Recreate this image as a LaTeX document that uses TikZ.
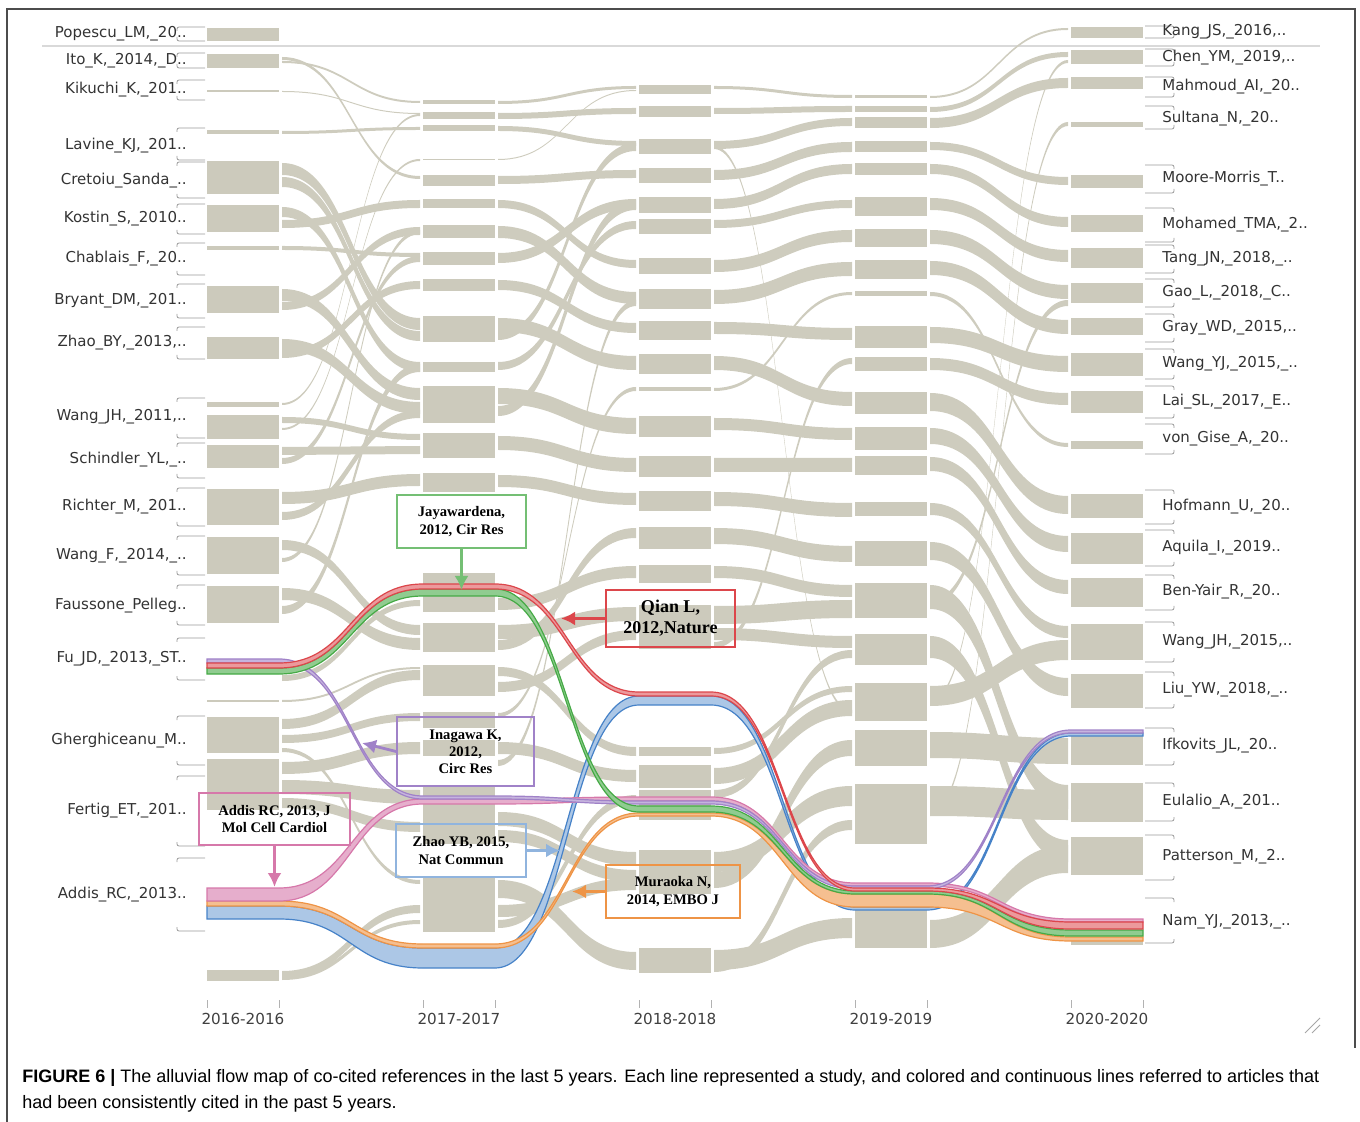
\documentclass[tikz,border=0pt]{standalone}
\usepackage{fontspec}
\setmainfont{Liberation Serif}
\newfontfamily\lblfont{DejaVu Sans}
\newfontfamily\capfont{Liberation Sans}
\usetikzlibrary{arrows.meta}
\definecolor{aluflow}{RGB}{206,204,190}
\definecolor{alublock}{RGB}{204,202,188}
\definecolor{qred}{RGB}{220,70,75}
\definecolor{jgreen}{RGB}{70,170,70}
\definecolor{ipurple}{RGB}{160,130,200}
\definecolor{apink}{RGB}{214,120,170}
\definecolor{morange}{RGB}{238,148,70}
\definecolor{zblue}{RGB}{70,130,200}

% grey band between two columns: x1, x2, source top, width, target top
\newcommand{\flowband}[5]{%
  \fill[aluflow] (#1,#3) .. controls ({(#1+#2)/2},#3) and ({(#1+#2)/2},#5) .. (#2,#5)
    -- (#2,#5+#4) .. controls ({(#1+#2)/2},#5+#4) and ({(#1+#2)/2},#3+#4) .. (#1,#3+#4) -- cycle;}

\begin{document}
\begin{tikzpicture}[x=0.5pt,y=-0.5pt,
  block/.style={fill=alublock},
  brk/.style={draw=black!40,line width=0.4pt},
  llbl/.style={font=\lblfont\fontsize{7.5}{9}\selectfont,text=black!80,inner sep=0pt},
  yr/.style={font=\lblfont\fontsize{7.6}{9}\selectfont,text=black!75,inner sep=0pt},
  callout/.style={line width=0.8pt,align=center,inner sep=1pt,
    font=\bfseries\fontsize{7.3}{8.6}\selectfont},
  pointer/.style={line width=1.4pt,-{Latex[length=7pt,width=7pt]}}]
\useasboundingbox (0,0) rectangle (1360,1122);

% frame
\draw[black!70,line width=0.6pt] (7,1122) -- (7,9) -- (1355,9) -- (1355,1048);
\draw[black!15,line width=1pt] (42,46) -- (1320,46);
\draw[black!35,line width=0.5pt] (1305,1033) -- (1320,1018) (1312,1033) -- (1320,1025);

% grey flows 2016 -> 2017
\foreach \a/\w/\b in {57/3/176,61/2/101,91/1/113,131/3/127,163/12/318,177/10/331,
  207/10/362,220/8/200,246/4/253,289/12/388,302/8/227,339/12/402,350/8/281,
  403/2/114,417/6/434,428/2/159,447/8/446,458/6/256,492/12/474,512/8/410,
  540/10/625,558/4/230,588/12/638,606/8/364,675/6/600,700/2/667,719/10/670,
  735/8/713,748/4/880,762/12/742,780/14/790,798/10/822,971/8/905,976/4/920}
  {\flowband{282}{420}{\a}{\w}{\b}}
% grey flows 2017 -> 2018
\foreach \a/\w/\b in {101/3/86,113/6/108,126/5/141,159/1/90,176/8/170,200/8/260,
  226/12/292,253/10/199,280/10/323,318/14/356,332/8/143,362/8/221,388/16/418,
  406/10/200,436/14/458,475/12/493,598/12/566,625/14/607,640/10/528,667/9/747,
  682/10/630,713/4/387,742/12/770,760/6/300,812/14/852,830/12/870,880/18/952,
  905/12/878,920/8/795}
  {\flowband{498}{636}{\a}{\w}{\b}}
% grey flows 2018 -> 2019
\foreach \a/\w/\b in {86/3/95,108/6/106,141/8/118,146/3/710,170/10/142,199/10/164,
  220/8/200,260/12/230,290/14/262,322/12/328,356/14/392,388/3/292,418/12/428,
  458/14/458,492/14/503,528/16/546,566/12/585,606/18/600,628/12/636,642/6/358,
  748/6/686,768/16/700,790/8/650,852/20/786,872/16/740,950/20/918,962/10/820}
  {\flowband{714}{852}{\a}{\w}{\b}}
% grey flows 2019 -> 2020
\foreach \a/\w/\b in {96/2/28,107/5/52,118/10/78,142/8/177,164/10/217,198/12/250,
  230/14/285,261/14/320,292/4/443,327/16/356,358/12/393,393/18/496,428/16/536,
  457/14/580,503/12/626,542/18/678,585/24/785,600/6/300,636/22/840,686/20/640,
  700/3/60,732/26/738,786/30/790,812/4/122,920/28/845}
  {\flowband{930}{1068}{\a}{\w}{\b}}

% blocks
\foreach \t/\b in {28/41,54/68,90/92,130/134,161/194,205/232,246/250,286/313,
  337/359,402/407,415/439,445/468,489/525,537/574,586/623,700/702,717/753,
  759/810,970/981}
  {\fill[block] (207,\t) rectangle (279,\b);}
\foreach \t/\b in {100/104,112/119,125/131,159/160,175/186,199/208,225/238,
  252/265,279/291,316/342,362/372,386/423,433/458,473/492,573/612,623/652,
  665/696,712/728,740/756,787/844,878/932}
  {\fill[block] (423,\t) rectangle (495,\b);}
\foreach \t/\b in {85/94,106/117,139/154,168/183,197/213,219/234,258/274,
  289/309,321/340,354/374,387/391,416/437,456/477,491/511,527/549,565/583,
  605/649,747/756,765/788,790/820,850/894,948/973}
  {\fill[block] (639,\t) rectangle (711,\b);}
\foreach \t/\b in {95/98,106/112,117/128,141/152,163/175,197/216,229/247,
  260/279,291/296,326/348,357/371,392/414,427/450,456/475,502/516,541/566,
  583/618,634/665,683/721,730/766,784/844,908/948}
  {\fill[block] (855,\t) rectangle (927,\b);}
\foreach \t/\b in {27/38,50/64,77/89,122/127,175/188,215/232,248/268,283/303,
  318/335,353/376,391/413,441/449,494/518,533/564,578/607,624/660,674/708,
  736/765,783/822,837/875,941/945}
  {\fill[block] (1071,\t) rectangle (1143,\b);}

% consistently cited references
\filldraw[fill=zblue!45,draw=zblue,line width=0.6pt]
  (207,906) -- (279,906) .. controls (351,906) and (351,948) .. (423,948) -- (495,948)
  .. controls (567,948) and (567,696) .. (639,696) -- (711,696)
  .. controls (783,696) and (783,907) .. (855,907) -- (927,907)
  .. controls (999,907) and (999,733) .. (1071,733) -- (1143,733) -- (1143,736) -- (1071,736)
  .. controls (999,736) and (999,910) .. (927,910) -- (855,910)
  .. controls (783,910) and (783,705) .. (711,705) -- (639,705)
  .. controls (567,705) and (567,968) .. (495,968) -- (423,968)
  .. controls (351,968) and (351,919) .. (279,919) -- (207,919) -- cycle;
\filldraw[fill=morange!60,draw=morange,line width=0.6pt]
  (207,901) -- (279,901) .. controls (351,901) and (351,944) .. (423,944) -- (495,944)
  .. controls (567,944) and (567,813) .. (639,813) -- (711,813)
  .. controls (783,813) and (783,894) .. (855,894) -- (927,894)
  .. controls (999,894) and (999,937) .. (1071,937) -- (1143,937) -- (1143,941) -- (1071,941)
  .. controls (999,941) and (999,907) .. (927,907) -- (855,907)
  .. controls (783,907) and (783,816) .. (711,816) -- (639,816)
  .. controls (567,816) and (567,948) .. (495,948) -- (423,948)
  .. controls (351,948) and (351,906) .. (279,906) -- (207,906) -- cycle;
\filldraw[fill=apink!60,draw=apink,line width=0.6pt]
  (207,888) -- (279,888) .. controls (351,888) and (351,799) .. (423,799) -- (495,799)
  .. controls (567,799) and (567,797) .. (639,797) -- (711,797)
  .. controls (783,797) and (783,883) .. (855,883) -- (927,883)
  .. controls (999,883) and (999,919) .. (1071,919) -- (1143,919) -- (1143,922) -- (1071,922)
  .. controls (999,922) and (999,886) .. (927,886) -- (855,886)
  .. controls (783,886) and (783,801) .. (711,801) -- (639,801)
  .. controls (567,801) and (567,804) .. (495,804) -- (423,804)
  .. controls (351,804) and (351,901) .. (279,901) -- (207,901) -- cycle;
\filldraw[fill=ipurple!60,draw=ipurple,line width=0.6pt]
  (207,659) -- (279,659) .. controls (351,659) and (351,796) .. (423,796) -- (495,796)
  .. controls (567,796) and (567,801) .. (639,801) -- (711,801)
  .. controls (783,801) and (783,886) .. (855,886) -- (927,886)
  .. controls (999,886) and (999,730) .. (1071,730) -- (1143,730) -- (1143,733) -- (1071,733)
  .. controls (999,733) and (999,889) .. (927,889) -- (855,889)
  .. controls (783,889) and (783,804) .. (711,804) -- (639,804)
  .. controls (567,804) and (567,799) .. (495,799) -- (423,799)
  .. controls (351,799) and (351,663) .. (279,663) -- (207,663) -- cycle;
\filldraw[fill=jgreen!60,draw=jgreen,line width=0.6pt]
  (207,668) -- (279,668) .. controls (351,668) and (351,589) .. (423,589) -- (495,589)
  .. controls (567,589) and (567,806) .. (639,806) -- (711,806)
  .. controls (783,806) and (783,891) .. (855,891) -- (927,891)
  .. controls (999,891) and (999,930) .. (1071,930) -- (1143,930) -- (1143,936) -- (1071,936)
  .. controls (999,936) and (999,894) .. (927,894) -- (855,894)
  .. controls (783,894) and (783,812) .. (711,812) -- (639,812)
  .. controls (567,812) and (567,596) .. (495,596) -- (423,596)
  .. controls (351,596) and (351,674) .. (279,674) -- (207,674) -- cycle;
\filldraw[fill=qred!55,draw=qred,line width=0.6pt]
  (207,663) -- (279,663) .. controls (351,663) and (351,584) .. (423,584) -- (495,584)
  .. controls (567,584) and (567,692) .. (639,692) -- (711,692)
  .. controls (783,692) and (783,888) .. (855,888) -- (927,888)
  .. controls (999,888) and (999,922) .. (1071,922) -- (1143,922) -- (1143,929) -- (1071,929)
  .. controls (999,929) and (999,891) .. (927,891) -- (855,891)
  .. controls (783,891) and (783,696) .. (711,696) -- (639,696)
  .. controls (567,696) and (567,589) .. (495,589) -- (423,589)
  .. controls (351,589) and (351,668) .. (279,668) -- (207,668) -- cycle;

% brackets beside the labels
\foreach \a/\b in {27/41,53/68,80/100,128/160,162/198,204/234,243/275,284/318,
  327/359,398/438,443/478,488/526,536/575,585/625,638/680,716/765,776/846,858/931}
  {\draw[brk,rounded corners=1pt] (177,\a+4) -- (177,\a) -- (205,\a)
     (177,\b-4) -- (177,\b) -- (205,\b);}
\foreach \a/\b in {26/38,49/66,77/97,106/129,165/193,208/242,245/273,279/307,
  314/342,349/379,386/418,424/454,490/524,530/566,575/610,622/662,672/708,
  728/765,783/821,835/880,898/943}
  {\draw[brk,rounded corners=1pt] (1145,\a) -- (1174,\a) -- (1174,\a+4)
     (1145,\b) -- (1174,\b) -- (1174,\b-4);}

% reference labels
\foreach \y/\txt [count=\i] in {34/{Popescu\_LM,\_20..},61/{Ito\_K,\_2014,\_D..},
  90/{Kikuchi\_K,\_201..},146/{Lavine\_KJ,\_201..},181/{Cretoiu\_Sanda\_..},
  219/{Kostin\_S,\_2010..},259/{Chablais\_F,\_20..},301/{Bryant\_DM,\_201..},
  343/{Zhao\_BY,\_2013,..},417/{Wang\_JH,\_2011,..},460/{Schindler\_YL,\_..},
  507/{Richter\_M,\_201..},556/{Wang\_F,\_2014,\_..},606/{Faussone\_Pelleg..},
  659/{Fu\_JD,\_2013,\_ST..},741/{Gherghiceanu\_M..},811/{Fertig\_ET,\_201..},
  895/{Addis\_RC,\_2013..}}
  {\node[llbl,anchor=east] (left\i) at (187,\y) {\txt};}
\foreach \y/\txt [count=\i] in {32/{Kang\_JS,\_2016,..},58/{Chen\_YM,\_2019,..},
  87/{Mahmoud\_AI,\_20..},119/{Sultana\_N,\_20..},179/{Moore-Morris\_T..},
  225/{Mohamed\_TMA,\_2..},259/{Tang\_JN,\_2018,\_..},293/{Gao\_L,\_2018,\_C..},
  328/{Gray\_WD,\_2015,..},364/{Wang\_YJ,\_2015,\_..},402/{Lai\_SL,\_2017,\_E..},
  439/{von\_Gise\_A,\_20..},507/{Hofmann\_U,\_20..},548/{Aquila\_I,\_2019..},
  592/{Ben-Yair\_R,\_20..},642/{Wang\_JH,\_2015,..},690/{Liu\_YW,\_2018,\_..},
  746/{Ifkovits\_JL,\_20..},802/{Eulalio\_A,\_201..},857/{Patterson\_M,\_2..},
  922/{Nam\_YJ,\_2013,\_..}}
  {\node[llbl,anchor=west] (right\i) at (1162,\y) {\txt};}

% time slices
\foreach \x/\yr in {207/2016,423/2017,639/2018,855/2019,1071/2020}
  {\draw[black!30,line width=0.4pt] (\x,1000) -- (\x,1008) (\x+72,1000) -- (\x+72,1008);
   \node[yr] (slice\yr) at (\x+36,1019) {\yr-\yr};}

% callouts
\node[callout,draw=jgreen!75,minimum width=64.5pt,minimum height=26.5pt]
      (jaya) at (461.5,521.5) {Jayawardena,\\2012, Cir Res};
\node[callout,draw=qred,minimum width=64.5pt,minimum height=28.5pt,
      font=\bfseries\fontsize{9}{10.5}\selectfont]
      (qian) at (670.5,618.5) {Qian L,\\2012,Nature};
\node[callout,draw=ipurple,minimum width=68.5pt,minimum height=34.5pt]
      (inagawa) at (465.5,751.5) {Inagawa K,\\2012,\\Circ Res};
\node[callout,draw=apink,minimum width=75.5pt,minimum height=26pt]
      (addis) at (274.5,819) {Addis RC, 2013, J\\Mol Cell Cardiol};
\node[callout,draw=zblue!60,minimum width=65pt,minimum height=26.5pt]
      (zhao) at (461,850.5) {Zhao YB, 2015,\\Nat Commun};
\node[callout,draw=morange,minimum width=67pt,minimum height=26.5pt]
      (muraoka) at (673,891.5) {Muraoka N,\\2014, EMBO J};
\coordinate (jayaTip) at (461.5,590);
\coordinate (qianTip) at (561,618.5);
\coordinate (inaTip) at (362,743);
\coordinate (addisTip) at (274.5,887);
\coordinate (zhaoTip) at (560,850.5);
\coordinate (murTip) at (572,891.5);
\draw[pointer,jgreen!75] (jaya) -- (jayaTip);
\draw[pointer,qred] (qian) -- (qianTip);
\draw[pointer,ipurple] (inagawa.west) -- (inaTip);
\draw[pointer,apink] (addis) -- (addisTip);
\draw[pointer,zblue!60] (zhao) -- (zhaoTip);
\draw[pointer,morange] (muraoka) -- (murTip);

% caption
\node[anchor=west,inner sep=0pt,font=\capfont\fontsize{9}{11}\selectfont] (cap1) at (22,1078)
  {\textbf{FIGURE 6 |} The alluvial flow map of co-cited references in the last 5 years. Each line represented a study, and colored and continuous lines referred to articles that};
\node[anchor=west,inner sep=0pt,font=\capfont\fontsize{9}{11}\selectfont] (cap2) at (22,1104)
  {had been consistently cited in the past 5 years.};
\end{tikzpicture}
\end{document}
